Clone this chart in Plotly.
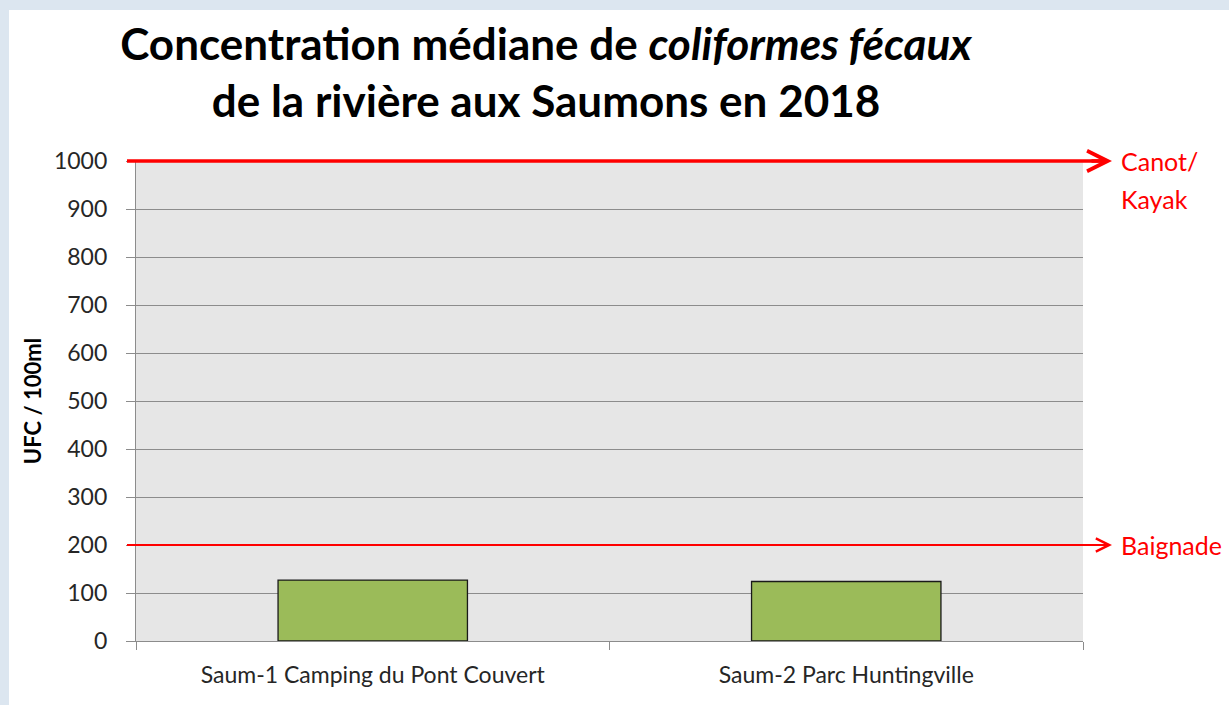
import plotly.graph_objects as go

# ---- data ----
stations = ["Saum-1 Camping du Pont Couvert", "Saum-2 Parc Huntingville"]
medians = [127, 124]
thresholds = [1000, 200]
threshold_labels = [["Canot/", "Kayak"], ["Baignade"]]
y_ticks = list(range(0, 1001, 100))
y_range = [0, 1000]

W, H = 1229, 705
ML, MR, MT, MB = 136, 146, 161, 64
PW = W - ML - MR
PH = H - MT - MB

def px_x(px):
    return (px - ML) / PW

def px_y(py):
    return 1 - (py - MT) / PH

def val_to_paper(v):
    return (v - y_range[0]) / (y_range[1] - y_range[0])

FONT = "Lato"
RED = "#ff0000"

fig = go.Figure()
fig.add_trace(go.Bar(
    x=stations, y=medians,
    marker=dict(color="#9bbb59", line=dict(color="#1a1a1a", width=1.3)),
    width=0.4,
    hoverinfo="x+y",
))

shapes = []
annotations = []
line_widths = [3.5, 1.8]
arrow_sizes = [1.15, 1.45]
for i, (t, lab) in enumerate(zip(thresholds, threshold_labels)):
    tip = px_x(1112)
    yp = val_to_paper(t)
    shapes.append(dict(type="line", xref="paper", yref="paper",
                       x0=px_x(127), x1=px_x(1108), y0=yp, y1=yp,
                       line=dict(color=RED, width=line_widths[i]), layer="above"))
    annotations.append(dict(xref="paper", yref="paper", x=tip, y=yp, ax=-22, ay=0,
                            axref="pixel", ayref="pixel", text="", showarrow=True,
                            arrowhead=5, arrowsize=arrow_sizes[i], arrowwidth=line_widths[i],
                            arrowcolor=RED))
    for k, txt in enumerate(lab):
        annotations.append(dict(xref="paper", yref="paper", x=px_x(1119), y=yp,
                                xanchor="left", yanchor="middle", yshift=-38 * k,
                                text=txt, showarrow=False,
                                font=dict(family=FONT, size=25, color=RED)))

# light blue frame (top and left edges of the original image)
frame = "#dce6f0"
shapes.append(dict(type="rect", xref="paper", yref="paper",
                   x0=px_x(0), x1=px_x(W), y0=px_y(10), y1=px_y(0),
                   fillcolor=frame, line=dict(width=0), layer="below"))
shapes.append(dict(type="rect", xref="paper", yref="paper",
                   x0=px_x(0), x1=px_x(9), y0=px_y(H), y1=px_y(0),
                   fillcolor=frame, line=dict(width=0), layer="below"))

fig.update_layout(
    width=W, height=H,
    margin=dict(l=ML, r=MR, t=MT, b=MB),
    paper_bgcolor="white",
    plot_bgcolor="#e6e6e6",
    showlegend=False,
    bargap=0.6,
    title=dict(
        text="Concentration médiane de <i>coliformes fécaux</i><br>de la rivière aux Saumons en 2018",
        x=546 / W, xref="container", xanchor="center",
        y=1 - 60 / H, yref="container", yanchor="top",
        font=dict(family=FONT, size=44, color="black", weight="bold"),
    ),
    font=dict(family=FONT, color="#222222"),
    shapes=shapes,
    annotations=annotations,
)
fig.update_yaxes(
    range=y_range, tickvals=y_ticks, ticks="outside", ticklen=9,
    tickcolor="#8c8c8c", showgrid=True, gridcolor="#8c8c8c", gridwidth=1.3,
    showline=True, linecolor="#8c8c8c", linewidth=1.3, zeroline=False,
    tickfont=dict(size=23, family=FONT, color="#262626"),
    ticklabelstandoff=14,
    title=dict(text="<b>UFC / 100ml</b>", font=dict(size=22, family=FONT, color="black"), standoff=6),
)
fig.update_xaxes(
    ticks="outside", tickson="boundaries", ticklen=8, tickcolor="#8c8c8c",
    showline=True, linecolor="#8c8c8c", linewidth=1.3,
    tickfont=dict(size=23, family=FONT, color="#262626"),
    ticklabelstandoff=13,
)

fig.write_html("out.html", config={"displayModeBar": False},
               post_script="document.body.style.margin='0';document.body.style.padding='0';")
